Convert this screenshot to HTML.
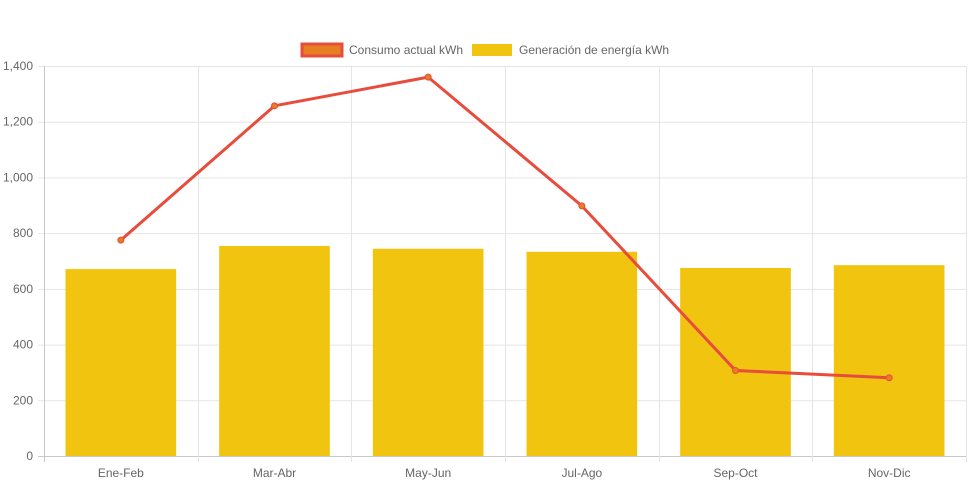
<!DOCTYPE html>
<html><head><meta charset="utf-8"><style>
html,body{margin:0;padding:0;background:#fff;}
svg{display:block;font-family:"Liberation Sans",Arial,sans-serif;}
</style></head><body>
<svg id="chart" width="971" height="485" viewBox="0 0 971 485" xmlns="http://www.w3.org/2000/svg">
<g id="legend">
<g>
<rect x="302" y="44" width="40" height="12" fill="#e67e22" stroke="#e74c3c" stroke-width="3"/>
<text x="349" y="54" font-size="12" fill="#666">Consumo actual kWh</text></g>
<g>
<rect x="472" y="44" width="40" height="12" fill="#f1c40f"/>
<text x="519" y="54" font-size="12" fill="#666">Generación de energía kWh</text></g>
</g>
<g id="grid"></g>
<g id="bars"></g>
<g id="line"></g>
<g id="axes"></g>
</svg>
<script>
const categories = ["Ene-Feb","Mar-Abr","May-Jun","Jul-Ago","Sep-Oct","Nov-Dic"];
const consumo = [775, 1257, 1360, 898, 307, 281];
const generacion = [671, 754, 744, 733, 675, 685];
const yTicks = [0,200,400,600,800,1000,1200,1400];
const yTickLabels = ["0","200","400","600","800","1,000","1,200","1,400"];

const NS="http://www.w3.org/2000/svg";
const L=44,R=966,T=66,B=456,YMAX=1400;
const cw=(R-L)/categories.length;
function xC(i){return L+cw*(i+0.5);}
function y(v){return B-(v/YMAX)*(B-T);}
function mk(tag,attrs,parent){const e=document.createElementNS(NS,tag);for(const k in attrs)e.setAttribute(k,attrs[k]);parent.appendChild(e);return e;}
const grid=document.getElementById('grid'),bars=document.getElementById('bars'),line=document.getElementById('line'),axes=document.getElementById('axes');
yTicks.forEach((t,i)=>{
  const g=mk('line',{x1:L-6,x2:R,y1:y(t)+0.5,y2:y(t)+0.5,stroke:i==0?'#c8c8c8':'#e5e5e5','stroke-width':1},grid);
  
  
  const tx=mk('text',{x:L-11,y:y(t)+4,'text-anchor':'end','font-size':12,fill:'#666'},axes);
  tx.textContent=yTickLabels[i];
  
  
});
for(let i=0;i<=categories.length;i++){
  const x=Math.round(L+cw*i)+0.5;
  const g=mk('line',{x1:x,x2:x,y1:T,y2:B+6,stroke:i==0?'#c8c8c8':'#e5e5e5','stroke-width':1},grid);
  
  
}
categories.forEach((c,i)=>{
  const bw=cw*0.72;
  const b=mk('rect',{x:xC(i)-bw/2,y:y(generacion[i]),width:bw,height:B-y(generacion[i]),fill:'#f1c40f'},bars);
  
  
  const tx=mk('text',{x:xC(i),y:B+21,'text-anchor':'middle','font-size':12,fill:'#666'},axes);
  tx.textContent=c;
  
  
});
const pts=consumo.map((v,i)=>xC(i)+','+y(v)).join(' ');
const pl=mk('polyline',{points:pts,fill:'none',stroke:'#e74c3c','stroke-width':3,'stroke-linejoin':'round'},line);


consumo.forEach((v,i)=>{
  const p=mk('circle',{cx:xC(i),cy:y(v),r:3,fill:'#e67e22',stroke:'#e74c3c','stroke-width':1},line);
  
  
});
</script>
</body></html>
